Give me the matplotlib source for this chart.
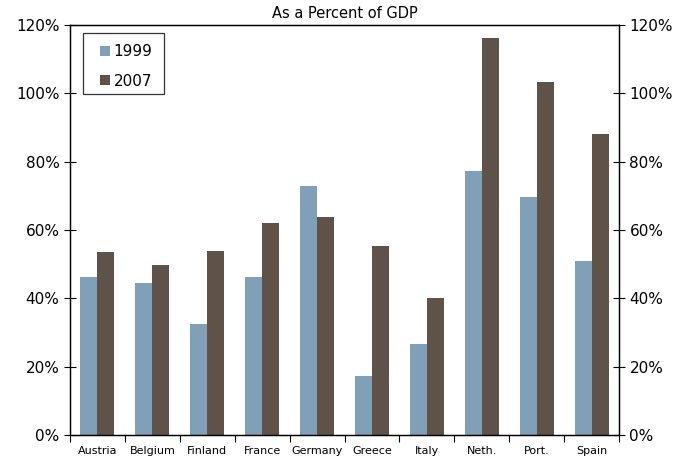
import numpy as np
import matplotlib.pyplot as plt
from matplotlib.patches import Rectangle
from matplotlib.ticker import FuncFormatter, FixedLocator

countries = ['Austria', 'Belgium', 'Finland', 'France', 'Germany',
             'Greece', 'Italy', 'Neth.', 'Port.', 'Spain']
v1999 = [46.2, 44.5, 32.5, 46.2, 72.9, 17.3, 26.6, 77.3, 69.7, 50.9]
v2007 = [53.6, 49.8, 53.8, 62.0, 63.8, 55.3, 40.1, 116.2, 103.3, 88.1]

c1999 = '#7fa0b6'
c2007 = '#5f5249'

fig = plt.figure(figsize=(6.88, 4.58), dpi=100)
ax = fig.add_axes([70/688, 23/458, 549/688, 410/458])

x = np.arange(len(countries))
w = 0.31
ax.bar(x - w/2, v1999, w, color=c1999, label='1999')
ax.bar(x + w/2, v2007, w, color=c2007, label='2007')

ax.set_xlim(-0.5, len(countries) - 0.5)
ax.set_ylim(0, 120)
ax.set_yticks(np.arange(0, 121, 20))
ax.yaxis.set_major_formatter(FuncFormatter(lambda v, p: '%d%%' % v))
ax.tick_params(axis='y', direction='inout', length=8, labelsize=11, width=0.8)

ax.set_xticks(x)
ax.set_xticklabels(countries, fontsize=8)
ax.xaxis.set_minor_locator(FixedLocator(np.arange(-0.5, len(countries), 1)))
ax.tick_params(axis='x', which='major', length=0, pad=8)
ax.tick_params(axis='x', which='minor', direction='out', length=5, width=0.8)

for s in ax.spines.values():
    s.set_linewidth(1.0)

ax2 = ax.twinx()
ax2.set_ylim(0, 120)
ax2.set_yticks(np.arange(0, 121, 20))
ax2.yaxis.set_major_formatter(FuncFormatter(lambda v, p: '%d%%' % v))
ax2.tick_params(axis='y', direction='inout', length=8, labelsize=11, width=0.8)

ax.set_title('As a Percent of GDP', fontsize=10.5, pad=5)

# legend without frame, box drawn separately
ax.legend(loc='upper left', bbox_to_anchor=(0.0546, 0.9536), fontsize=11,
          frameon=False, handlelength=0.65, handleheight=0.65,
          handletextpad=0.25, labelspacing=0.96, borderpad=0, borderaxespad=0)
ax.add_patch(Rectangle((0.0237, 0.8317), 0.1475, 0.1488, transform=ax.transAxes,
                       fill=False, edgecolor='#333333', linewidth=0.9, zorder=5))

fig.savefig('out.png', dpi=100)
